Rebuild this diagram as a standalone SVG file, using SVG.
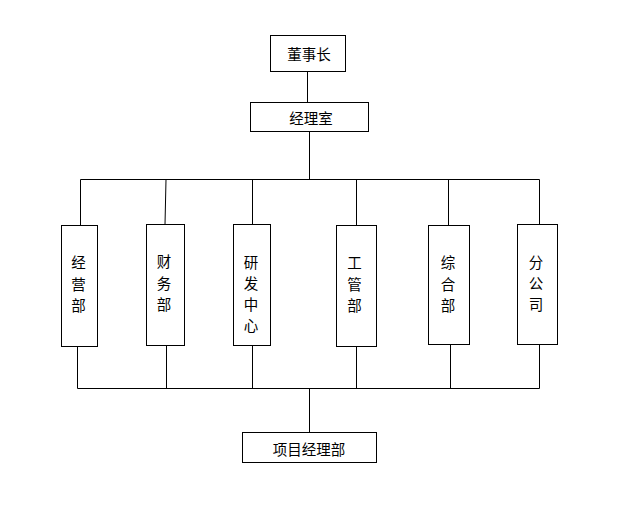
<svg xmlns="http://www.w3.org/2000/svg" width="625" height="517" viewBox="0 0 625 517">
<style>
.box{fill:#fff;stroke:#000;stroke-width:1}
.t{font-family:"Noto Sans CJK SC","Noto Sans",sans-serif;font-size:14.5px;fill:#000;text-anchor:middle;dominant-baseline:central}
.c{fill:none;stroke:#000;stroke-width:1}
</style>
<rect width="625" height="517" fill="#fff"/>
<g id="connectors" class="c">
<path d="M307.5 71.5V102.5"/>
<path d="M309.5 131.5V179.5"/>
<path d="M80.5 179.5H539.5"/>
<path d="M80.5 179.5V225.5"/>
<path d="M166 179.5L165 224.5"/>
<path d="M252.5 179.5V224.5"/>
<path d="M356.5 179.5V225.5"/>
<path d="M448.5 179.5V225.5"/>
<path d="M539.5 179.5V224.5"/>
<path d="M77.5 346.5V388.5"/>
<path d="M166.5 345.5V388.5"/>
<path d="M252.5 345.5V388.5"/>
<path d="M356.5 346.5V388.5"/>
<path d="M450.5 344.5V388.5"/>
<path d="M539.5 344.5V388.5"/>
<path d="M77.5 388.5H539.5"/>
<path d="M309.5 388.5V432.5"/>
</g>
<g id="n-dongshizhang"><rect class="box" x="270.5" y="35.5" width="75" height="36"/><text class="t" x="309" y="53">董事长</text></g>
<g id="n-jinglishi"><rect class="box" x="250.5" y="102.5" width="118" height="29"/><text class="t" x="311" y="117">经理室</text></g>
<g id="n-jingying"><rect class="box" x="61.5" y="225.5" width="36" height="121"/><text class="t" x="78.5" y="261"><tspan x="78.5">经</tspan><tspan x="78.5" dy="21.5">营</tspan><tspan x="78.5" dy="21.5">部</tspan></text></g>
<g id="n-caiwu"><rect class="box" x="146.5" y="224.5" width="38" height="121"/><text class="t" x="164" y="260"><tspan x="164">财</tspan><tspan x="164" dy="21.5">务</tspan><tspan x="164" dy="21.5">部</tspan></text></g>
<g id="n-yanfa"><rect class="box" x="233.5" y="224.5" width="37" height="121"/><text class="t" x="251" y="261"><tspan x="251">研</tspan><tspan x="251" dy="21">发</tspan><tspan x="251" dy="21">中</tspan><tspan x="251" dy="21">心</tspan></text></g>
<g id="n-gongguan"><rect class="box" x="336.5" y="225.5" width="40" height="121"/><text class="t" x="354.5" y="261"><tspan x="354.5">工</tspan><tspan x="354.5" dy="21.5">管</tspan><tspan x="354.5" dy="21.5">部</tspan></text></g>
<g id="n-zonghe"><rect class="box" x="428.5" y="225.5" width="41" height="119"/><text class="t" x="448" y="261"><tspan x="448">综</tspan><tspan x="448" dy="21.5">合</tspan><tspan x="448" dy="21.5">部</tspan></text></g>
<g id="n-fengongsi"><rect class="box" x="517.5" y="224.5" width="40" height="120"/><text class="t" x="536" y="261"><tspan x="536">分</tspan><tspan x="536" dy="21">公</tspan><tspan x="536" dy="21">司</tspan></text></g>
<g id="n-xiangmu"><rect class="box" x="242.5" y="432.5" width="134" height="30"/><text class="t" x="309" y="448">项目经理部</text></g>
</svg>
